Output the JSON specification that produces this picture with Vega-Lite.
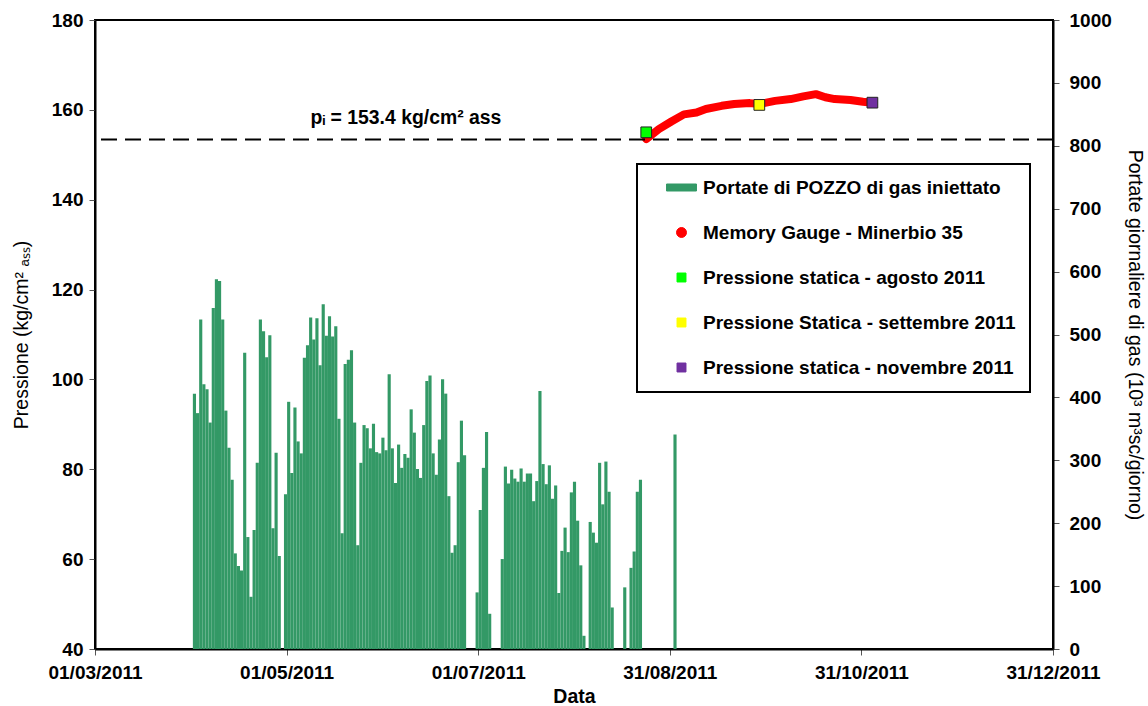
{
  "$schema": "https://vega.github.io/schema/vega-lite/v6.json",
  "width": 958,
  "height": 629,
  "autosize": {"type": "none"},
  "padding": {"left": 95, "top": 20, "right": 95, "bottom": 57},
  "background": "white",
  "config": {
    "font": "Liberation Sans",
    "view": {"stroke": "black", "strokeWidth": 2},
    "axis": {
      "domainColor": "black", "domainWidth": 2, "tickColor": "#555", "tickWidth": 1, "tickSize": 6,
      "labelFont": "Liberation Sans", "labelFontSize": 19, "labelFontWeight": "bold", "labelColor": "black",
      "titleFont": "Liberation Sans", "titleColor": "black", "grid": false
    },
    "legend": {
      "orient": "none", "legendX": 542, "legendY": 144,
      "padding": 14, "strokeColor": "black", "fillColor": "white",
      "labelFont": "Liberation Sans", "labelFontSize": 19, "labelFontWeight": "bold", "labelColor": "black",
      "labelLimit": 500, "symbolSize": 196, "symbolOffset": 21, "labelOffset": 12, "rowPadding": 25
    }
  },
  "datasets": {
    "portate": [
      {"data": "2011-04-01", "q": 406}, {"data": "2011-04-02", "q": 375}, {"data": "2011-04-03", "q": 524},
      {"data": "2011-04-04", "q": 421}, {"data": "2011-04-05", "q": 413}, {"data": "2011-04-06", "q": 360},
      {"data": "2011-04-07", "q": 542}, {"data": "2011-04-08", "q": 588}, {"data": "2011-04-09", "q": 585},
      {"data": "2011-04-10", "q": 524}, {"data": "2011-04-11", "q": 379}, {"data": "2011-04-12", "q": 320},
      {"data": "2011-04-13", "q": 269}, {"data": "2011-04-14", "q": 152}, {"data": "2011-04-15", "q": 132},
      {"data": "2011-04-16", "q": 125}, {"data": "2011-04-17", "q": 471}, {"data": "2011-04-18", "q": 178},
      {"data": "2011-04-19", "q": 83}, {"data": "2011-04-20", "q": 189}, {"data": "2011-04-21", "q": 296},
      {"data": "2011-04-22", "q": 524}, {"data": "2011-04-23", "q": 505}, {"data": "2011-04-24", "q": 464},
      {"data": "2011-04-25", "q": 499}, {"data": "2011-04-26", "q": 192}, {"data": "2011-04-27", "q": 312},
      {"data": "2011-04-28", "q": 148}, {"data": "2011-04-30", "q": 246},
      {"data": "2011-05-01", "q": 393}, {"data": "2011-05-02", "q": 280}, {"data": "2011-05-03", "q": 384},
      {"data": "2011-05-04", "q": 330}, {"data": "2011-05-05", "q": 311}, {"data": "2011-05-06", "q": 463},
      {"data": "2011-05-07", "q": 483}, {"data": "2011-05-08", "q": 527}, {"data": "2011-05-09", "q": 492},
      {"data": "2011-05-10", "q": 526}, {"data": "2011-05-11", "q": 451}, {"data": "2011-05-12", "q": 548},
      {"data": "2011-05-13", "q": 498}, {"data": "2011-05-14", "q": 529}, {"data": "2011-05-15", "q": 497},
      {"data": "2011-05-16", "q": 513}, {"data": "2011-05-17", "q": 366}, {"data": "2011-05-18", "q": 184},
      {"data": "2011-05-19", "q": 453}, {"data": "2011-05-20", "q": 460}, {"data": "2011-05-21", "q": 475},
      {"data": "2011-05-22", "q": 360}, {"data": "2011-05-23", "q": 165}, {"data": "2011-05-24", "q": 296},
      {"data": "2011-05-25", "q": 356}, {"data": "2011-05-26", "q": 351}, {"data": "2011-05-27", "q": 319},
      {"data": "2011-05-28", "q": 358}, {"data": "2011-05-29", "q": 313}, {"data": "2011-05-30", "q": 311},
      {"data": "2011-05-31", "q": 336},
      {"data": "2011-06-01", "q": 316}, {"data": "2011-06-02", "q": 437}, {"data": "2011-06-03", "q": 319},
      {"data": "2011-06-04", "q": 264}, {"data": "2011-06-05", "q": 325}, {"data": "2011-06-06", "q": 288},
      {"data": "2011-06-07", "q": 310}, {"data": "2011-06-08", "q": 304}, {"data": "2011-06-09", "q": 381},
      {"data": "2011-06-10", "q": 344}, {"data": "2011-06-11", "q": 286}, {"data": "2011-06-12", "q": 272},
      {"data": "2011-06-13", "q": 356}, {"data": "2011-06-14", "q": 426}, {"data": "2011-06-15", "q": 435},
      {"data": "2011-06-16", "q": 311}, {"data": "2011-06-17", "q": 277}, {"data": "2011-06-18", "q": 333},
      {"data": "2011-06-19", "q": 429}, {"data": "2011-06-20", "q": 406}, {"data": "2011-06-21", "q": 243},
      {"data": "2011-06-22", "q": 153}, {"data": "2011-06-23", "q": 165}, {"data": "2011-06-24", "q": 297},
      {"data": "2011-06-25", "q": 363}, {"data": "2011-06-26", "q": 308}, {"data": "2011-06-30", "q": 90},
      {"data": "2011-07-01", "q": 221}, {"data": "2011-07-02", "q": 288}, {"data": "2011-07-03", "q": 345},
      {"data": "2011-07-04", "q": 56}, {"data": "2011-07-08", "q": 143}, {"data": "2011-07-09", "q": 290},
      {"data": "2011-07-10", "q": 263}, {"data": "2011-07-11", "q": 285}, {"data": "2011-07-12", "q": 271},
      {"data": "2011-07-13", "q": 266}, {"data": "2011-07-14", "q": 287}, {"data": "2011-07-15", "q": 266},
      {"data": "2011-07-16", "q": 279}, {"data": "2011-07-17", "q": 279}, {"data": "2011-07-18", "q": 235},
      {"data": "2011-07-19", "q": 267}, {"data": "2011-07-20", "q": 410}, {"data": "2011-07-21", "q": 294},
      {"data": "2011-07-22", "q": 262}, {"data": "2011-07-23", "q": 292}, {"data": "2011-07-24", "q": 239},
      {"data": "2011-07-25", "q": 260}, {"data": "2011-07-26", "q": 89}, {"data": "2011-07-27", "q": 156},
      {"data": "2011-07-28", "q": 193}, {"data": "2011-07-29", "q": 154}, {"data": "2011-07-30", "q": 249},
      {"data": "2011-07-31", "q": 266},
      {"data": "2011-08-01", "q": 204}, {"data": "2011-08-02", "q": 133}, {"data": "2011-08-03", "q": 21},
      {"data": "2011-08-05", "q": 202}, {"data": "2011-08-06", "q": 185}, {"data": "2011-08-07", "q": 169},
      {"data": "2011-08-08", "q": 296}, {"data": "2011-08-09", "q": 230}, {"data": "2011-08-10", "q": 298},
      {"data": "2011-08-11", "q": 250}, {"data": "2011-08-12", "q": 66}, {"data": "2011-08-16", "q": 98},
      {"data": "2011-08-18", "q": 129}, {"data": "2011-08-19", "q": 155}, {"data": "2011-08-20", "q": 250},
      {"data": "2011-08-21", "q": 269}, {"data": "2011-09-01", "q": 341}
    ],
    "gauge": [
      {"data": "2011-08-23", "p": 153.5}, {"data": "2011-08-27", "p": 155.7}, {"data": "2011-08-31", "p": 157.4},
      {"data": "2011-09-04", "p": 159.0}, {"data": "2011-09-08", "p": 159.4}, {"data": "2011-09-11", "p": 160.2},
      {"data": "2011-09-16", "p": 160.9}, {"data": "2011-09-20", "p": 161.3}, {"data": "2011-09-25", "p": 161.5},
      {"data": "2011-09-28", "p": 161.3}, {"data": "2011-10-03", "p": 162.0}, {"data": "2011-10-08", "p": 162.4},
      {"data": "2011-10-12", "p": 163.0}, {"data": "2011-10-16", "p": 163.5}, {"data": "2011-10-19", "p": 162.8},
      {"data": "2011-10-22", "p": 162.4}, {"data": "2011-10-27", "p": 162.2}, {"data": "2011-10-31", "p": 161.8},
      {"data": "2011-11-03", "p": 161.6}
    ],
    "statiche": [
      {"data": "2011-08-23", "p": 155.0, "serie": "Pressione statica - agosto 2011"},
      {"data": "2011-09-28", "p": 161.1, "serie": "Pressione Statica - settembre 2011"},
      {"data": "2011-11-03", "p": 161.6, "serie": "Pressione statica - novembre 2011"}
    ],
    "nota": [
      {"data": "2011-06-08", "p": 158.2, "t": "pᵢ = 153.4 kg/cm² ass"}
    ]
  },
  "layer": [
    {
      "data": {"name": "portate"},
      "mark": {"type": "bar", "binSpacing": 0},
      "encoding": {
        "x": {
          "field": "data", "type": "temporal", "timeUnit": "utcyearmonthdate",
          "scale": {"type": "utc", "domain": [{"year": 2011, "month": 3, "date": 1, "utc": true}, {"year": 2011, "month": 12, "date": 31, "utc": true}]},
          "axis": {
            "title": "Data", "titleFontSize": 19.5, "titleFontWeight": "bold", "titlePadding": 5,
            "format": "%d/%m/%Y", "labelFlush": false, "labelPadding": 8,
            "values": [
              {"year": 2011, "month": 3, "date": 1, "utc": true},
              {"year": 2011, "month": 5, "date": 1, "utc": true},
              {"year": 2011, "month": 7, "date": 1, "utc": true},
              {"year": 2011, "month": 8, "date": 31, "utc": true},
              {"year": 2011, "month": 10, "date": 31, "utc": true},
              {"year": 2011, "month": 12, "date": 31, "utc": true}
            ]
          }
        },
        "y": {
          "field": "q", "type": "quantitative",
          "scale": {"domain": [0, 1000], "nice": false},
          "axis": {
            "orient": "right", "values": [0, 100, 200, 300, 400, 500, 600, 700, 800, 900, 1000], "format": "d",
            "title": "Portate giornaliere di gas (10³ m³sc/giorno)", "titleFontSize": 19.5, "titleFontWeight": "normal",
            "titlePadding": 13, "labelPadding": 10
          }
        },
        "color": {
          "datum": "Portate di POZZO di gas iniettato",
          "scale": {
            "domain": ["Portate di POZZO di gas iniettato", "Memory Gauge - Minerbio 35", "Pressione statica - agosto 2011", "Pressione Statica - settembre 2011", "Pressione statica - novembre 2011"],
            "range": ["#339966", "#ff0000", "#00ff00", "#ffff00", "#7030a0"]
          },
          "legend": {
            "title": null,
            "encode": {
              "legend": {"update": {"strokeWidth": {"value": 2}}},
              "symbols": {"update": {
                "shape": [
                  {"test": "datum.index === 0", "value": "M-2.14,-0.5H2.14V0.5H-2.14Z"},
                  {"test": "datum.index === 1", "value": "M0.71,0A0.71,0.71,0,1,1,-0.71,0A0.71,0.71,0,1,1,0.71,0Z"},
                  {"value": "M-0.64,-0.64H0.64V0.64H-0.64Z"}
                ],
                "fill": {"scale": "color", "field": "value"},
                "stroke": [
                  {"test": "datum.index >= 2", "value": "#222222"},
                  {"value": "transparent"}
                ],
                "strokeWidth": {"value": 1},
                "opacity": {"value": 1}
              }}
            }
          }
        }
      }
    },
    {
      "layer": [
        {
          "data": {"name": "gauge"},
          "mark": {"type": "line", "strokeWidth": 8, "strokeCap": "round", "strokeJoin": "round"},
          "encoding": {
            "x": {"field": "data", "type": "temporal", "timeUnit": "utcyearmonthdate", "bandPosition": 0.5},
            "y": {
              "field": "p", "type": "quantitative",
              "scale": {"domain": [40, 180], "nice": false},
              "axis": {
                "orient": "left", "values": [40, 60, 80, 100, 120, 140, 160, 180],
                "title": "Pressione (kg/cm² ₐₛₛ)", "titleFontSize": 19.5, "titleFontWeight": "normal",
                "titlePadding": 20, "labelPadding": 6
              }
            },
            "color": {"datum": "Memory Gauge - Minerbio 35"}
          }
        },
        {
          "data": {"values": [{}]},
          "mark": {"type": "rule", "strokeDash": [16, 8], "strokeWidth": 2, "color": "black"},
          "encoding": {"y": {"datum": 153.4}}
        },
        {
          "data": {"name": "statiche"},
          "mark": {"type": "square", "filled": true, "size": 115, "stroke": "#222222", "strokeWidth": 1, "opacity": 1},
          "encoding": {
            "x": {"field": "data", "type": "temporal", "timeUnit": "utcyearmonthdate", "bandPosition": 0.5},
            "y": {"field": "p", "type": "quantitative"},
            "color": {"field": "serie", "type": "nominal", "title": null}
          }
        },
        {
          "data": {"name": "nota"},
          "mark": {"type": "text", "font": "Liberation Sans", "fontSize": 19.4, "fontWeight": "bold", "align": "center", "baseline": "middle", "color": "black"},
          "encoding": {
            "x": {"field": "data", "type": "temporal"},
            "y": {"field": "p", "type": "quantitative"},
            "text": {"field": "t"}
          }
        }
      ]
    }
  ],
  "resolve": {"scale": {"y": "independent"}}
}
